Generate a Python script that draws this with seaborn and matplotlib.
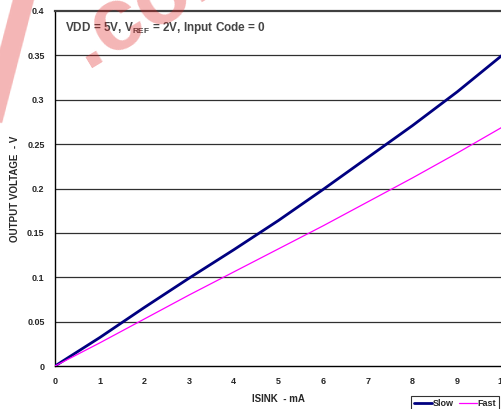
import matplotlib
matplotlib.use("Agg")
import matplotlib.pyplot as plt
import numpy as np
import pandas as pd
import seaborn as sns

# data
isink = [0, 1, 2, 3, 4, 5, 6, 7, 8, 9, 10]
slow = [0, 0.032, 0.066, 0.099, 0.131, 0.164, 0.199, 0.235, 0.271, 0.309, 0.350]
fast = [0, 0.026, 0.053, 0.080, 0.106, 0.132, 0.158, 0.185, 0.212, 0.240, 0.269]
yticks = [0, 0.05, 0.1, 0.15, 0.2, 0.25, 0.3, 0.35, 0.4]
ytick_labels = ["0", "0.05", "0.1", "0.15", "0.2", "0.25", "0.3", "0.35", "0.4"]

sns.set_style("white")
plt.rcParams["font.family"] = ["Liberation Sans", "DejaVu Sans"]
plt.rcParams["font.weight"] = "bold"
plt.rcParams["mathtext.fontset"] = "custom"
plt.rcParams["mathtext.rm"] = "Liberation Sans:bold"
plt.rcParams["mathtext.bf"] = "Liberation Sans:bold"

df = pd.DataFrame({"ISINK": isink, "Slow": slow, "Fast": fast})

W, H = 502, 409
fig = plt.figure(figsize=(W / 100, H / 100), dpi=100)
ax = fig.add_axes([55 / W, 1 - 366 / H, 1 - 55 / W, (366 - 11) / H])

# horizontal grid
for yv in yticks[1:-1]:
    ax.axhline(yv, color="#303030", lw=0.9, zorder=1)

sns.lineplot(data=df, x="ISINK", y="Slow", ax=ax, color="#000080", lw=2.0,
             label="Slow", legend=False, zorder=3)
sns.lineplot(data=df, x="ISINK", y="Fast", ax=ax, color="#ff00ff", lw=0.9,
             label="Fast", legend=False, zorder=3)

ax.set_xlim(0, 10)
ax.set_ylim(0, 0.4)
ax.set_xticks(isink)
ax.set_xticklabels([str(v) for v in isink], fontsize=6.5, fontweight="bold")
ax.set_yticks(yticks)
ax.set_yticklabels(ytick_labels, fontsize=6.5, fontweight="bold")
ax.tick_params(axis="both", direction="out", length=3.5, width=0.8, color="black")
ax.tick_params(axis="x", pad=4.5)
ax.tick_params(axis="y", pad=4)

ax.set_xlabel("ISINK  - mA", fontsize=7, fontweight="bold", labelpad=6)
ax.set_ylabel("OUTPUT VOLTAGE  - V", fontsize=7, fontweight="bold", labelpad=5)

for side in ["left", "bottom"]:
    ax.spines[side].set_color("black")
    ax.spines[side].set_linewidth(1.0)
ax.spines["top"].set_color("#404040")
ax.spines["top"].set_linewidth(1.6)
ax.spines["right"].set_visible(False)

ax.text(0.22, 0.381, r"VDD = 5V, V$_{\mathbf{REF}}$ = 2V, Input Code = 0",
        fontsize=8.5, fontweight="bold", color="#454545", va="center", ha="left")

handles, labels = ax.get_legend_handles_labels()
leg = fig.legend(handles, labels, loc="upper left", bbox_to_anchor=(411 / W, 1 - 396 / H),
                 ncol=2, fontsize=6.5, frameon=True, fancybox=False, edgecolor="black",
                 handlelength=2.0, handletextpad=0.1, columnspacing=0.5, borderpad=0.35,
                 borderaxespad=0)
leg.get_frame().set_linewidth(0.8)
for t in leg.get_texts():
    t.set_fontweight("bold")

# faint red watermark as in the scan
fig.text(86 / W, 1 - 68 / H, ".com", fontsize=64, fontweight="bold", color="#e02020",
         alpha=0.33, rotation=31, rotation_mode="anchor", ha="left", va="baseline", zorder=10)
fig.text(-22 / W, 1 - 118 / H, "/", fontsize=130, fontweight="bold", color="#e02020",
         alpha=0.33, rotation=-4, rotation_mode="anchor", ha="left", va="baseline", zorder=10)

fig.savefig("out.png", dpi=100)
